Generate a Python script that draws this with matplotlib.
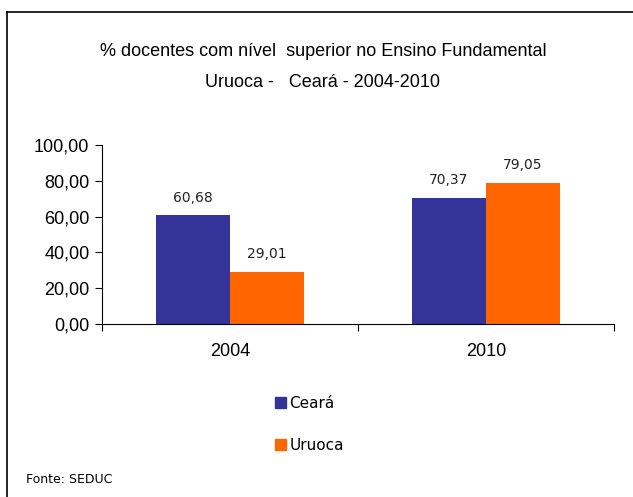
import matplotlib.pyplot as plt
from matplotlib.lines import Line2D
from matplotlib.patches import Patch
import numpy as np

years = ["2004", "2010"]
ceara = [60.68, 70.37]
uruoca = [29.01, 79.05]
ceara_labels = ["60,68", "70,37"]
uruoca_labels = ["29,01", "79,05"]
yticks = [0, 20, 40, 60, 80, 100]
ytick_labels = ["0,00", "20,00", "40,00", "60,00", "80,00", "100,00"]

blue = "#333399"
orange = "#FF6600"

fig = plt.figure(figsize=(6.33, 4.97), dpi=100)
ax = fig.add_axes([0.161, 0.348, 0.809, 0.360])

x = np.arange(len(years))
w = 0.29
ax.bar(x - w / 2, ceara, w, color=blue)
ax.bar(x + w / 2, uruoca, w, color=orange)

for i in range(len(years)):
    ax.text(x[i] - w / 2, ceara[i] + 6, ceara_labels[i], ha="center", va="bottom",
            fontsize=10, family="DejaVu Sans", color="#222222")
    ax.text(x[i] + w / 2, uruoca[i] + 6, uruoca_labels[i], ha="center", va="bottom",
            fontsize=10, family="DejaVu Sans", color="#222222")

ax.set_xlim(-0.5, 1.5)
ax.set_ylim(0, 100)
ax.set_yticks(yticks)
ax.set_yticklabels(ytick_labels, family="Liberation Sans", fontsize=13)
ax.set_xticks([-0.5, 0.5, 1.5])
ax.set_xticklabels([])
ax.set_xticks(x, minor=True)
ax.set_xticklabels(years, minor=True, family="Liberation Sans", fontsize=13)
ax.tick_params(axis="x", which="minor", length=0, pad=14)
ax.tick_params(axis="x", which="major", length=5, direction="out")
ax.tick_params(axis="y", length=5, direction="out", pad=4)
for s in ["top", "right"]:
    ax.spines[s].set_visible(False)

fig.text(0.51, 0.897, "% docentes com nível  superior no Ensino Fundamental",
         ha="center", va="center", fontsize=13,
         family=["Liberation Sans Narrow", "Liberation Sans"])
fig.text(0.51, 0.834, "Uruoca -   Ceará - 2004-2010",
         ha="center", va="center", fontsize=13,
         family=["Liberation Sans Narrow", "Liberation Sans"])

handles = [Patch(color=blue, label="Ceará"), Patch(color=orange, label="Uruoca")]
fig.legend(handles=handles, loc="upper left", bbox_to_anchor=(0.412, 0.231),
           frameon=False, prop={"family": "DejaVu Sans", "size": 11},
           handlelength=0.72, handleheight=0.72, handletextpad=0.25, labelspacing=1.75)

fig.text(0.041, 0.035, "Fonte: SEDUC", ha="left", va="center", fontsize=9,
         family="DejaVu Sans")

fig.add_artist(Line2D([7 / 633, 7 / 633], [0, 1 - 12 / 497], color="black", lw=1.2))
fig.add_artist(Line2D([7 / 633, 1], [1 - 12 / 497, 1 - 12 / 497], color="black", lw=1.2))

fig.savefig("out.png", dpi=100)
